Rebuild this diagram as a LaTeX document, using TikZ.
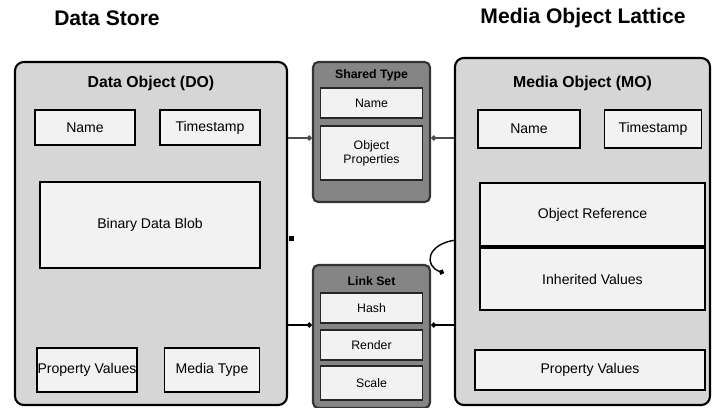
\documentclass[tikz,border=0pt]{standalone}
\usepackage{fontspec}
\setmainfont{Liberation Sans}
\usetikzlibrary{arrows.meta}
\definecolor{panelgray}{gray}{0.84}
\definecolor{cellgray}{gray}{0.95}
\definecolor{darkgray}{gray}{0.52}
\begin{document}
\begin{tikzpicture}[x=0.02cm,y=-0.02cm,
    size/.style 2 args={minimum width=#1*0.02cm,minimum height=#2*0.02cm,inner sep=0pt},
    panel/.style={draw=black,line width=1.2pt,rounded corners=5pt,fill=panelgray},
    midpanel/.style={draw=black!80,line width=1.2pt,rounded corners=3pt,fill=darkgray},
    cell/.style={draw=black,line width=1pt,fill=cellgray,font=\footnotesize,align=center},
    smallcell/.style={draw=black!85,line width=1pt,fill=cellgray,font=\scriptsize,align=center},
    head/.style={font=\small\bfseries},
    title/.style={font=\large\bfseries},
    link/.style={line width=0.8pt,draw=black!70}]
    \useasboundingbox (0,0) rectangle (715,408);

    \node[title] (dstitle) at (107,18) {Data Store};
    \node[title] (motitle) at (583,18) {Media Object Lattice};

    % data store
    \node[panel,size={272}{343}] (ds) at (151,233.5) {};
    \node[head] (dshead) at (151,83) {Data Object (DO)};
    \node[cell,size={100}{35}] (dsname) at (85,127.5) {Name};
    \node[cell,size={100}{35}] (dstime) at (210,127.5) {Timestamp};
    \node[cell,size={220}{86}] (dsblob) at (150,225) {Binary Data Blob};
    \node[cell,size={100}{44}] (dsprop) at (87,370) {Property Values};
    \node[cell,size={95}{44}] (dstype) at (212,370) {Media Type};
    \node[fill=black,size={5}{5}] (dsmark) at (291,238) {};

    % shared type
    \node[midpanel,size={117}{140}] (mt) at (371.5,132) {};
    \node[font=\scriptsize\bfseries] (mthead) at (371.5,75) {Shared Type};
    \node[smallcell,size={102}{30}] (mtname) at (371.5,103) {Name};
    \node[smallcell,size={102}{54}] (mtprops) at (371.5,153) {Object\\Properties};

    % link set
    \node[midpanel,size={117}{143}] (mb) at (371.5,336.5) {};
    \node[font=\scriptsize\bfseries] (mbhead) at (371.5,281) {Link Set};
    \node[smallcell,size={102}{30}] (mbhash) at (371.5,308) {Hash};
    \node[smallcell,size={102}{30}] (mbrender) at (371.5,345) {Render};
    \node[smallcell,size={102}{34}] (mbscale) at (371.5,383) {Scale};

    % media object
    \node[panel,size={255}{347}] (mo) at (582.5,231.5) {};
    \node[head] (mohead) at (582.5,83) {Media Object (MO)};
    \node[cell,size={102}{38}] (moname) at (529,129) {Name};
    \node[cell,size={97}{38}] (motime) at (653,129) {Timestamp};
    \node[cell,size={225}{63}] (moref) at (592.5,214.5) {Object Reference};
    \node[cell,size={225}{62}] (moinh) at (592.5,279) {Inherited Values};
    \node[cell,size={230}{40}] (moprop) at (590,370) {Property Values};

    \draw[link,-{Circle[length=3pt]}] (ds.east |- 0,138) -- (mt.west |- 0,138);
    \draw[link,{Circle[length=3pt]}-] (mt.east |- 0,138) -- (mo.west |- 0,138);
    \draw[link,draw=black,-{Circle[length=3pt]}] (ds.east |- 0,325) -- (mb.west |- 0,325);
    \draw[link,draw=black,{Circle[length=3pt]}-] (mb.east |- 0,325) -- (mo.west |- 0,325);

    \coordinate (loopin) at (456,240);
    \coordinate (loopout) at (444,273);
    \draw[link,draw=black,-{Circle[length=3pt]}] (loopin) .. controls (426,244) and (424,266) .. (loopout);
\end{tikzpicture}
\end{document}
